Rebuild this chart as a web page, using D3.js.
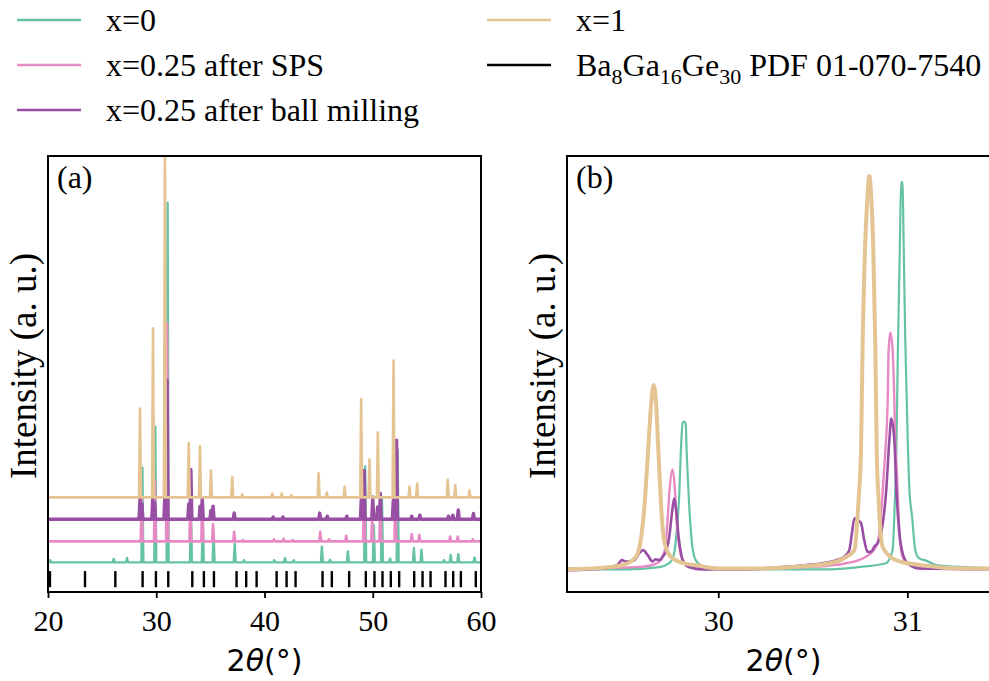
<!DOCTYPE html>
<html>
<head>
<meta charset="utf-8">
<script src="https://cdn.jsdelivr.net/npm/d3@7"></script>
<style>
  html, body { margin: 0; padding: 0; background: #fff; overflow: hidden; }
  svg { display: block; }
</style>
</head>
<body>
<svg id="chart" width="989" height="681"></svg>
<script>
// ---------- data ----------
// Series names, in plotting order
const seriesNames = ["x=0", "x=0.25 after SPS", "x=0.25 after ball milling", "x=1"];
const seriesColors = ["#66c2a5", "#e78ac3", "#984ea3", "#e5c494"];

// Panel (a): vertical stacking offset of each pattern (a.u.)
const stackOffsets = [6.8, 11.6, 16.7, 21.7];

// Panel (a): reflections of each pattern as [2θ, intensity above its own baseline]
const peaksX0 = [
  [20.20, 0.5], [26.07, 0.8], [27.30, 1.0], [28.72, 21.7], [29.91, 31.1], [31.05, 82.5],
  [33.20, 12.4], [34.30, 10.3], [35.30, 6.2], [37.25, 4.3], [38.10, 0.5], [40.90, 0.5],
  [41.90, 1.0], [42.70, 0.5], [45.30, 3.6], [46.05, 0.6], [47.70, 2.5], [49.30, 22.0],
  [50.10, 8.5], [50.85, 14.7], [51.60, 0.9], [52.30, 25.8], [53.80, 3.3], [54.50, 2.9],
  [56.60, 0.5], [57.20, 1.7], [57.90, 1.9], [59.40, 1.1]
];
const peaksSPS = [
  [28.65, 10.2], [29.88, 13.8], [31.00, 50.1], [33.15, 9.5], [34.25, 9.5], [35.25, 4.0],
  [37.20, 2.2], [38.00, 0.3], [40.87, 0.5], [41.77, 0.6], [42.60, 0.3], [45.15, 2.2],
  [45.95, 0.5], [47.55, 1.3], [49.20, 13.4], [49.95, 5.0], [50.70, 9.0], [52.10, 15.6],
  [53.60, 1.7], [54.30, 1.5], [57.15, 1.1], [57.85, 1.1], [59.24, 0.5]
];
const peaksBM = [
  [28.50, 4.8], [28.68, 3.5], [29.68, 5.0], [29.85, 3.8], [30.80, 6.2], [31.00, 31.9],
  [33.00, 3.5], [33.20, 11.4], [34.05, 3.0], [34.25, 4.8], [35.05, 2.0], [35.25, 3.0],
  [37.20, 1.4], [40.80, 0.5], [41.70, 0.5], [45.10, 1.4], [45.80, 0.7], [47.60, 0.7],
  [48.95, 5.0], [49.20, 11.2], [50.00, 5.1], [50.45, 2.8], [50.70, 5.9], [51.90, 4.4],
  [52.20, 18.1], [53.60, 0.7], [54.35, 0.9], [57.00, 0.7], [57.40, 0.9], [57.90, 2.1],
  [59.30, 1.3]
];
const peaksX1 = [
  [28.50, 20.4], [29.70, 38.8], [30.80, 83.0], [33.00, 12.4], [34.04, 11.7], [35.05, 6.2],
  [37.02, 4.6], [37.95, 0.7], [40.72, 0.9], [41.60, 0.9], [42.47, 0.5], [45.00, 5.5],
  [45.76, 1.1], [47.40, 2.5], [48.93, 22.5], [49.70, 8.7], [50.47, 14.9], [51.92, 31.4],
  [53.40, 2.5], [54.10, 3.2], [56.93, 4.1], [57.62, 2.8], [58.94, 1.6]
];
const peakSets = [peaksX0, peaksSPS, peaksBM, peaksX1];

// Reference pattern Ba8Ga16Ge30, PDF 01-070-7540: line positions (2θ)
const refLines = [
  20.18, 23.42, 26.22, 28.74, 29.97, 31.11, 33.33, 34.40, 35.33, 37.42, 38.31, 39.27,
  41.12, 42.04, 42.87, 45.36, 46.22, 47.82, 49.36, 50.16, 50.90, 51.67, 52.44, 53.83,
  54.60, 55.34, 56.72, 57.43, 58.14, 59.52
];

// Panel (b): measured profiles around the (320) and (321) reflections, [2θ, intensity]
const zoomX0 = [
  [29.20, 5.2], [29.51, 5.2], [29.688, 5.7], [29.741, 6.6], [29.767, 8.9], [29.779, 13.5],
  [29.794, 22.6], [29.803, 33.3], [29.812, 38.9], [29.820, 39.1], [29.828, 38.5],
  [29.832, 33.3], [29.843, 22.6], [29.856, 13.5], [29.873, 8.1], [29.899, 6.4],
  [29.952, 5.7], [30.111, 5.2], [30.587, 5.2], [30.763, 5.8], [30.887, 6.6], [30.922, 9.6],
  [30.934, 21.1], [30.942, 32.6], [30.950, 55.5], [30.960, 78.4], [30.967, 94.0],
  [30.974, 94.0], [30.981, 78.4], [30.989, 57.8], [31.002, 34.9], [31.011, 23.4],
  [31.025, 17.3], [31.042, 9.6], [31.063, 7.7], [31.099, 7.2], [31.152, 6.2],
  [31.311, 5.7], [31.50, 5.4]
];
const zoomSPS = [
  [29.20, 5.4], [29.565, 5.7], [29.652, 6.2], [29.697, 7.3], [29.720, 10.4], [29.732, 16.5],
  [29.741, 22.6], [29.758, 28.1], [29.772, 22.6], [29.779, 16.5], [29.794, 10.4],
  [29.811, 7.3], [29.838, 6.2], [29.899, 5.7], [30.111, 5.4], [30.499, 5.8], [30.676, 6.6],
  [30.781, 8.1], [30.834, 10.4], [30.852, 13.5], [30.878, 28.7], [30.884, 32.6],
  [30.896, 44.0], [30.901, 55.5], [30.910, 59.5], [30.922, 55.5], [30.931, 44.0],
  [30.937, 32.6], [30.943, 28.7], [30.958, 13.5], [30.975, 8.1], [31.011, 6.2],
  [31.081, 5.4], [31.50, 5.4]
];
const zoomBM = [
  [29.20, 5.0], [29.406, 5.4], [29.467, 6.2], [29.490, 7.3], [29.512, 7.0], [29.556, 7.3],
  [29.582, 8.9], [29.603, 9.6], [29.626, 8.5], [29.652, 7.0], [29.670, 7.5], [29.688, 7.3],
  [29.705, 8.1], [29.726, 9.6], [29.741, 12.7], [29.755, 18.1], [29.767, 21.5],
  [29.779, 18.1], [29.790, 12.7], [29.803, 8.9], [29.820, 6.6], [29.847, 5.7],
  [29.917, 5.2], [30.111, 5.2], [30.358, 5.8], [30.464, 6.2], [30.552, 6.6], [30.623, 7.3],
  [30.667, 8.1], [30.693, 9.6], [30.707, 13.5], [30.720, 16.9], [30.737, 16.5],
  [30.755, 15.8], [30.772, 11.9], [30.790, 9.2], [30.808, 9.2], [30.825, 10.4],
  [30.843, 11.2], [30.861, 13.5], [30.887, 22.6], [30.905, 34.9], [30.915, 39.8],
  [30.931, 34.9], [30.943, 22.6], [30.958, 13.5], [30.975, 8.9], [31.002, 6.6],
  [31.063, 5.4], [31.50, 5.2]
];
const zoomX1 = [
  [29.20, 5.2], [29.42, 5.7], [29.51, 6.4], [29.565, 8.1], [29.59, 11.9], [29.608, 18.8],
  [29.626, 30.3], [29.644, 42.5], [29.658, 47.5], [29.670, 44.0], [29.684, 31.8],
  [29.697, 20.3], [29.714, 11.9], [29.741, 8.5], [29.794, 6.9], [29.90, 6.0], [30.00, 5.4],
  [30.22, 5.4], [30.41, 5.8], [30.59, 6.6], [30.667, 7.8], [30.72, 9.6], [30.742, 21.1],
  [30.755, 32.6], [30.763, 55.5], [30.776, 78.4], [30.788, 89.9], [30.799, 95.4],
  [30.810, 89.9], [30.820, 78.4], [30.831, 55.5], [30.838, 32.6], [30.848, 21.1],
  [30.869, 10.4], [30.905, 8.3], [30.940, 7.3], [31.063, 6.2], [31.31, 5.4], [31.50, 5.4]
];
const zoomSets = [zoomX0, zoomSPS, zoomBM, zoomX1];

const ticksA = [20, 30, 40, 50, 60];
const ticksB = [30, 31];
const refLabel = "PDF 01-070-7540";

// ---------- layout ----------
const svg = d3.select("#chart");
const serif = "'Liberation Serif', 'Times New Roman', serif";
const sans = "'DejaVu Sans', sans-serif";
const plotTop = 156, plotBottom = 592;
const panelA = { left: 48, right: 481 };
const panelB = { left: 567, right: 1000 };

const xA = d3.scaleLinear().domain([20, 60]).range([panelA.left, panelA.right]);
const xB = d3.scaleLinear().domain([29.2, 31.49]).range([panelB.left, panelB.right]);
const y = d3.scaleLinear().domain([0, 100]).range([plotBottom, plotTop]);

const defs = svg.append("defs");
[["clipA", panelA], ["clipB", panelB]].forEach(([id, p]) => {
  defs.append("clipPath").attr("id", id).append("rect")
    .attr("x", p.left).attr("y", plotTop)
    .attr("width", p.right - p.left).attr("height", plotBottom - plotTop);
});

// Expand a list of reflections into a polyline sitting on a flat baseline
function patternPoints(peaks, offset, halfWidth) {
  const pts = [[20, offset]];
  peaks.forEach(([pos, h]) => {
    pts.push([pos - halfWidth, offset], [pos, offset + h], [pos + halfWidth, offset]);
  });
  pts.push([60, offset]);
  return pts;
}

// ---------- panel (a) ----------
const gA = svg.append("g").attr("clip-path", "url(#clipA)");
const lineA = d3.line().x(d => xA(d[0])).y(d => y(d[1]));
const widthsA = [2.4, 2.6, 3.4, 2.6];
peakSets.forEach((peaks, i) => {
  gA.append("path")
    .datum(patternPoints(peaks, stackOffsets[i], 0.09))
    .attr("fill", "none")
    .attr("stroke", seriesColors[i])
    .attr("stroke-width", widthsA[i])
    .attr("stroke-linejoin", "round")
    .attr("d", lineA);
});
// reference stick pattern
gA.selectAll("line.ref").data(refLines).enter().append("line")
  .attr("class", "ref")
  .attr("x1", d => xA(d)).attr("x2", d => xA(d))
  .attr("y1", y(4.8)).attr("y2", y(1.1))
  .attr("stroke", "#000").attr("stroke-width", 2.4);

// ---------- panel (b) ----------
const gB = svg.append("g").attr("clip-path", "url(#clipB)");
const lineB = d3.line().x(d => xB(d[0])).y(d => y(d[1])).curve(d3.curveMonotoneX);
const widthsB = [2.2, 2.4, 2.6, 4.0];
zoomSets.forEach((pts, i) => {
  gB.append("path")
    .datum(pts)
    .attr("fill", "none")
    .attr("stroke", seriesColors[i])
    .attr("stroke-width", widthsB[i])
    .attr("stroke-linejoin", "round")
    .attr("d", lineB);
});

// ---------- axes ----------
function drawAxis(x, p, ticks, panelLabel) {
  const ax = svg.append("g").attr("transform", `translate(0,${plotBottom})`)
    .call(d3.axisBottom(x).tickValues(ticks).tickFormat(d3.format("d")).tickSize(6).tickPadding(6));
  ax.attr("font-family", serif);
  ax.select(".domain").remove();
  ax.selectAll(".tick line").attr("stroke", "#000").attr("stroke-width", 1.8);
  ax.selectAll(".tick text")
    .attr("font-family", serif).attr("font-size", 30).attr("fill", "#000")
    .attr("dy", "0.9em");
  // frame
  svg.append("rect")
    .attr("x", p.left).attr("y", plotTop)
    .attr("width", p.right - p.left).attr("height", plotBottom - plotTop)
    .attr("fill", "none").attr("stroke", "#000").attr("stroke-width", 2);
  // x label: 2θ(°)
  const xl = svg.append("text")
    .attr("x", (p.left + p.right) / 2).attr("y", 671)
    .attr("text-anchor", "middle")
    .attr("font-family", sans).attr("font-size", 30).attr("fill", "#000");
  xl.append("tspan").text("2");
  xl.append("tspan").attr("font-style", "italic").text("θ");
  xl.append("tspan").text("(°)");
  // y label
  svg.append("text")
    .attr("transform", `translate(${p.left - 12},366) rotate(-90)`)
    .attr("text-anchor", "middle")
    .attr("font-family", serif).attr("font-size", 37).attr("fill", "#000")
    .text("Intensity (a. u.)");
  // panel tag
  svg.append("text")
    .attr("x", p.left + 9).attr("y", 188)
    .attr("font-family", serif).attr("font-size", 32).attr("fill", "#000")
    .text(panelLabel);
}
drawAxis(xA, panelA, ticksA, "(a)");
drawAxis(xB, panelB, ticksB, "(b)");

// ---------- legend ----------
const legendItems = [
  { col: 0, row: 0, color: seriesColors[0], label: seriesNames[0] },
  { col: 0, row: 1, color: seriesColors[1], label: seriesNames[1] },
  { col: 0, row: 2, color: seriesColors[2], label: seriesNames[2] },
  { col: 1, row: 0, color: seriesColors[3], label: seriesNames[3] },
  { col: 1, row: 1, color: "#000", label: null }
];
const colX = [17, 487];
const rowY = [20, 65, 110];
const legend = svg.append("g");
legendItems.forEach(it => {
  const x0 = colX[it.col], yy = rowY[it.row];
  legend.append("line")
    .attr("x1", x0).attr("x2", x0 + 64).attr("y1", yy).attr("y2", yy)
    .attr("stroke", it.color).attr("stroke-width", 2.6);
  const t = legend.append("text")
    .attr("x", x0 + 89).attr("y", yy + 11)
    .attr("font-family", serif).attr("font-size", 32).attr("fill", "#000");
  if (it.label) {
    t.text(it.label);
  } else {
    // Ba8Ga16Ge30 with subscripts
    let shift = 0;
    [["Ba", "8"], ["Ga", "16"], ["Ge", "30"]].forEach(([el, n]) => {
      t.append("tspan").attr("dy", -shift).text(el);
      t.append("tspan").attr("font-size", 22).attr("dy", 8).text(n);
      shift = 8;
    });
    t.append("tspan").attr("dy", -shift).text(" " + refLabel);
  }
});
</script>
</body>
</html>
